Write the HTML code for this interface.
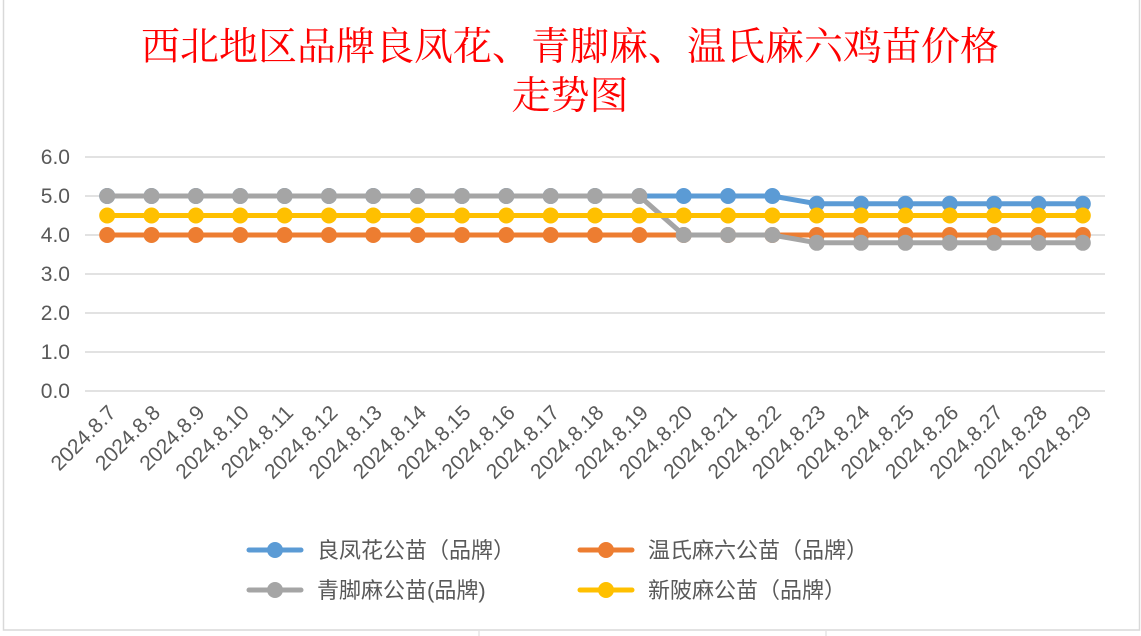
<!DOCTYPE html>
<html><head><meta charset="utf-8"><style>
body{margin:0;background:#fff;width:1141px;height:636px;overflow:hidden}
svg{display:block}
</style></head><body>
<svg width="1141" height="636" viewBox="0 0 1141 636" font-family="'Liberation Sans','Noto Sans CJK SC',sans-serif">
<rect x="0" y="0" width="1141" height="636" fill="#fff"/>
<rect x="3.5" y="-2" width="1136" height="632" fill="#fff" stroke="#d9d9d9" stroke-width="1.5"/>
<line x1="479" y1="631" x2="479" y2="636" stroke="#d9d9d9"/>
<line x1="826" y1="631" x2="826" y2="636" stroke="#d9d9d9"/>
<text x="570" y="60" text-anchor="middle" font-size="39" fill="#ff0000" font-family="'Liberation Serif','Noto Serif CJK SC',serif">西北地区品牌良凤花、青脚麻、温氏麻六鸡苗价格</text>
<text x="570" y="109" text-anchor="middle" font-size="39" fill="#ff0000" font-family="'Liberation Serif','Noto Serif CJK SC',serif">走势图</text>
<g id="grid"></g><g id="ylabels"></g><g id="xlabels"></g><g id="series"></g><g id="legend"></g>
</svg>
<script>
const categories=["2024.8.7","2024.8.8","2024.8.9","2024.8.10","2024.8.11","2024.8.12","2024.8.13","2024.8.14","2024.8.15","2024.8.16","2024.8.17","2024.8.18","2024.8.19","2024.8.20","2024.8.21","2024.8.22","2024.8.23","2024.8.24","2024.8.25","2024.8.26","2024.8.27","2024.8.28","2024.8.29"];
const liangfenghua=[5,5,5,5,5,5,5,5,5,5,5,5,5,5,5,5,4.8,4.8,4.8,4.8,4.8,4.8,4.8];
const wenshi=[4,4,4,4,4,4,4,4,4,4,4,4,4,4,4,4,4,4,4,4,4,4,4];
const qingjiaoma=[5,5,5,5,5,5,5,5,5,5,5,5,5,4,4,4,3.8,3.8,3.8,3.8,3.8,3.8,3.8];
const xinpima=[4.5,4.5,4.5,4.5,4.5,4.5,4.5,4.5,4.5,4.5,4.5,4.5,4.5,4.5,4.5,4.5,4.5,4.5,4.5,4.5,4.5,4.5,4.5];
const yTicks=["0.0","1.0","2.0","3.0","4.0","5.0","6.0"];
const seriesNames=["良凤花公苗（品牌）","温氏麻六公苗（品牌）","青脚麻公苗(品牌)","新陂麻公苗（品牌）"];
const NS="http://www.w3.org/2000/svg";
const x0=85,x1=1105,yTop=157,yBot=391,yMax=6;
const step=(x1-x0)/categories.length;
const xs=i=>x0+step*(i+0.5);
const ys=v=>yBot-(v/yMax)*(yBot-yTop);
function mk(tag,attrs,parent){const e=document.createElementNS(NS,tag);for(const k in attrs)e.setAttribute(k,attrs[k]);document.getElementById(parent)?document.getElementById(parent).appendChild(e):parent.appendChild(e);return e;}
yTicks.forEach((t,i)=>{const v=parseFloat(t);
 const l=mk('line',{x1:x0,x2:x1,y1:ys(v),y2:ys(v),stroke:'#d9d9d9','stroke-width':1.5},'grid');
 
 
 const tx=mk('text',{x:70,y:ys(v)+7,'text-anchor':'end','font-size':21,fill:'#595959'},'ylabels');tx.textContent=t;
 
 
});
categories.forEach((c,i)=>{
 const tx=mk('text',{x:0,y:0,'text-anchor':'end','font-size':21,fill:'#595959',transform:`translate(${xs(i)+10},${414}) rotate(-45)`},'xlabels');tx.textContent=c;
 
 
});
const colors=["#5b9bd5","#ed7d31","#a5a5a5","#ffc000"];
const data=[liangfenghua,wenshi,qingjiaoma,xinpima];
const keys=["liangfenghua","wenshi","qingjiaoma","xinpima"];
data.forEach((arr,s)=>{
 const g=mk('g',{},'series');
 
 
 const p=mk('polyline',{points:arr.map((v,i)=>xs(i)+','+ys(v)).join(' '),fill:'none',stroke:colors[s],'stroke-width':5,'stroke-linejoin':'round'},g);
 
 
 arr.forEach((v,i)=>{const c=mk('circle',{cx:xs(i),cy:ys(v),r:8,fill:colors[s]},g);
  
  });
});
const legPos=[[249,550],[580,550],[249,590],[580,590]];
seriesNames.forEach((n,s)=>{const [lx,ly]=legPos[s];
 const g=mk('g',{},'legend');
 
 
 mk('line',{x1:lx,x2:lx+52,y1:ly,y2:ly,stroke:colors[s],'stroke-width':5,'stroke-linecap':'round'},g);
 mk('circle',{cx:lx+26,cy:ly,r:8,fill:colors[s]},g);
 const t=mk('text',{x:lx+68,y:ly+8,'font-size':22,fill:'#595959'},g);t.textContent=n;
});
</script>
</body></html>
